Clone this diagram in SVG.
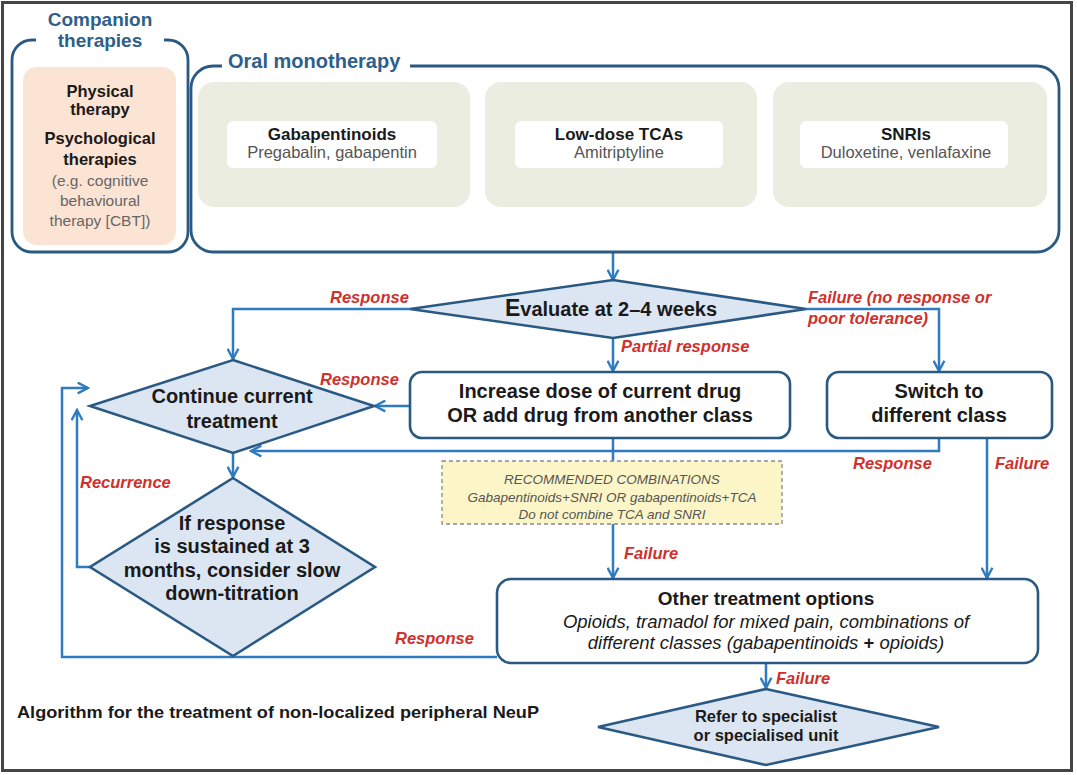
<svg xmlns="http://www.w3.org/2000/svg" width="1077" height="775" viewBox="0 0 1077 775">
<defs>
<style>
text{font-family:"Liberation Sans",Arial,sans-serif;}
.box{fill:#ffffff;stroke:#2a5a84;stroke-width:2.6;}
.frame{fill:none;stroke:#2a5a84;stroke-width:2.8;}
.dia{fill:#dce6f2;stroke:#2a5a84;stroke-width:2.6;}
.green{fill:#eaeddf;}
.inner{fill:#ffffff;}
.conn{fill:none;stroke:#2f7bbf;stroke-width:2.5;}
.ttl{font-size:20px;font-weight:bold;fill:#2e5f8a;}
.nt{font-size:20px;font-weight:bold;fill:#1a1a1a;text-anchor:middle;}
.gt{font-size:17px;font-weight:bold;fill:#1a1a1a;text-anchor:middle;}
.gs{font-size:16.5px;fill:#555555;text-anchor:middle;}
.ct{font-size:16.5px;font-weight:bold;fill:#1a1a1a;text-anchor:middle;}
.cs{font-size:15.5px;fill:#666666;text-anchor:middle;}
.lbl{font-size:16.5px;font-weight:bold;font-style:italic;fill:#d0312d;}
.yt{font-size:13.5px;font-style:italic;fill:#555555;text-anchor:middle;}
</style>
<marker id="arr" viewBox="0 0 12 12" refX="10.5" refY="6" markerWidth="13" markerHeight="13" markerUnits="userSpaceOnUse" orient="auto">
<path d="M1,1 L10.5,6 L1,11" fill="none" stroke="#2f7bbf" stroke-width="2.2"/>
</marker>
</defs>
<rect x="0" y="0" width="1077" height="775" fill="#ffffff"/>
<rect x="2.5" y="2.5" width="1069" height="768" fill="none" stroke="#454545" stroke-width="3"/>

<g id="connectors">
<path class="conn" d="M613,252 V280" marker-end="url(#arr)"/>
<path class="conn" d="M410,309 H233 V359" marker-end="url(#arr)"/>
<path class="conn" d="M613,338 V371" marker-end="url(#arr)"/>
<path class="conn" d="M806,309 H939 V371" marker-end="url(#arr)"/>
<path class="conn" d="M410,406 H375" marker-end="url(#arr)"/>
<path class="conn" d="M939,438 V451 H251" marker-end="url(#arr)"/>
<path class="conn" d="M613,438 V578" marker-end="url(#arr)"/>
<path class="conn" d="M987,438 V578" marker-end="url(#arr)"/>
<path class="conn" d="M233,453 V477" marker-end="url(#arr)"/>
<path class="conn" d="M90,567 H77 V410" marker-end="url(#arr)"/>
<path class="conn" d="M497,657 H62 V388 H88" marker-end="url(#arr)"/>
<path class="conn" d="M766,663 V688" marker-end="url(#arr)"/>
<text class="lbl" x="330" y="303">Response</text>
<text class="lbl" x="621" y="352">Partial response</text>
<text class="lbl" x="808" y="303">Failure (no response or</text>
<text class="lbl" x="808" y="324">poor tolerance)</text>
<text class="lbl" x="320" y="385">Response</text>
<text class="lbl" x="80" y="488">Recurrence</text>
<text class="lbl" x="853" y="469">Response</text>
<text class="lbl" x="995" y="469">Failure</text>
<text class="lbl" x="624" y="559">Failure</text>
<text class="lbl" x="395" y="644">Response</text>
<text class="lbl" x="776" y="684">Failure</text>
</g>

<g id="companion">
<rect class="frame" x="12" y="40" width="176" height="212" rx="20"/>
<rect x="36" y="33" width="128" height="14" fill="#ffffff"/>
<rect x="23" y="67" width="153" height="178" rx="14" fill="#fce4d4"/>
<text class="ttl" x="100" y="26" text-anchor="middle" style="font-size:19px">Companion</text>
<text class="ttl" x="100" y="47" text-anchor="middle" style="font-size:19px">therapies</text>
<text class="ct" x="100" y="97">Physical</text>
<text class="ct" x="100" y="115">therapy</text>
<text class="ct" x="100" y="144">Psychological</text>
<text class="ct" x="100" y="165">therapies</text>
<text class="cs" x="100" y="186">(e.g. cognitive</text>
<text class="cs" x="100" y="206">behavioural</text>
<text class="cs" x="100" y="226">therapy [CBT])</text>
</g>

<g id="oral">
<rect class="frame" x="191" y="66" width="868" height="186" rx="22"/>
<rect x="222" y="56" width="188" height="14" fill="#ffffff"/>
<text class="ttl" x="228" y="68">Oral monotherapy</text>
</g>

<g id="gabapentinoids">
<rect class="green" x="198" y="82" width="272" height="125" rx="16"/>
<rect class="inner" x="227" y="121" width="210" height="47" rx="6"/>
<text class="gt" x="332" y="140">Gabapentinoids</text>
<text class="gs" x="332" y="158">Pregabalin, gabapentin</text>
</g>

<g id="tcas">
<rect class="green" x="485" y="82" width="272" height="125" rx="16"/>
<rect class="inner" x="515" y="121" width="208" height="47" rx="6"/>
<text class="gt" x="619" y="140">Low-dose TCAs</text>
<text class="gs" x="619" y="158">Amitriptyline</text>
</g>

<g id="snris">
<rect class="green" x="773" y="82" width="274" height="125" rx="16"/>
<rect class="inner" x="800" y="121" width="208" height="47" rx="6"/>
<text class="gt" x="906" y="140">SNRIs</text>
<text class="gs" x="906" y="158">Duloxetine, venlafaxine</text>
</g>

<g id="evaluate">
<polygon class="dia" points="613,280 806,309 613,338 410,309"/>
<text class="nt" x="611" y="316"><tspan font-size="23">E</tspan>valuate at 2–4 weeks</text>
</g>

<g id="continue">
<polygon class="dia" points="233,360 374,406 233,453 90,406"/>
<text class="nt" x="232" y="403">Continue current</text>
<text class="nt" x="232" y="428">treatment</text>
</g>

<g id="increase">
<rect class="box" x="410" y="372" width="380" height="66" rx="12"/>
<text class="nt" x="600" y="398">Increase dose of current drug</text>
<text class="nt" x="600" y="422">OR add drug from another class</text>
</g>

<g id="switch">
<rect class="box" x="827" y="372" width="225" height="66" rx="12"/>
<text class="nt" x="939" y="398">Switch to</text>
<text class="nt" x="939" y="422">different class</text>
</g>

<g id="combinations">
<rect x="442" y="461" width="340" height="63" fill="#fcf5c8" stroke="#8a8a8a" stroke-width="1.3" stroke-dasharray="4 3"/>
<text class="yt" x="612" y="484">RECOMMENDED COMBINATIONS</text>
<text class="yt" x="612" y="502">Gabapentinoids+SNRI  OR gabapentinoids+TCA</text>
<text class="yt" x="612" y="519">Do not combine TCA and SNRI</text>
</g>

<g id="sustained">
<polygon class="dia" points="233,478 375,567 233,656 90,567"/>
<text class="nt" x="232" y="530">If response</text>
<text class="nt" x="232" y="553">is sustained at 3</text>
<text class="nt" x="232" y="577">months, consider slow</text>
<text class="nt" x="232" y="600">down-titration</text>
</g>

<g id="other">
<rect class="box" x="497" y="579" width="541" height="84" rx="14"/>
<text class="nt" x="766" y="605" style="font-size:19px">Other treatment options</text>
<text x="766" y="628" text-anchor="middle" font-size="18.5" font-style="italic" fill="#1a1a1a">Opioids, tramadol for mixed pain, combinations of</text>
<text x="766" y="649" text-anchor="middle" font-size="18.5" font-style="italic" fill="#1a1a1a">different classes (gabapentinoids <tspan font-weight="bold" font-style="normal">+</tspan> opioids)</text>
</g>

<g id="refer">
<polygon class="dia" points="766,689 939,727 766,765 598,727"/>
<text class="nt" x="766" y="722" style="font-size:16.5px">Refer to specialist</text>
<text class="nt" x="766" y="741" style="font-size:16.5px">or specialised unit</text>
</g>

<text x="17" y="718" font-size="16.5" font-weight="bold" fill="#1a1a1a" textLength="522" lengthAdjust="spacingAndGlyphs">Algorithm for the treatment of non-localized peripheral NeuP</text>
</svg>
